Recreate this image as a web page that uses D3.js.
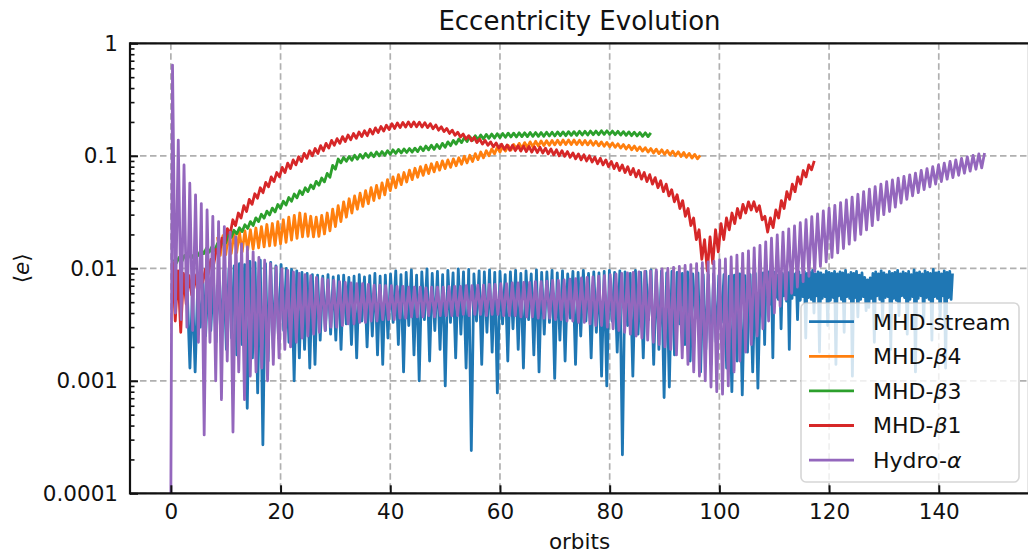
<!DOCTYPE html>
<html><head><meta charset="utf-8">
<script src="https://cdn.jsdelivr.net/npm/d3@7"></script>
<style>body{margin:0;background:#fff}svg{display:block;font-family:"DejaVu Sans",sans-serif}</style>
</head><body><svg id="c" width="1028" height="556"></svg>
<script>
// ---------- DATA ----------
const seriesNames = ["MHD-stream","MHD-β4","MHD-β3","MHD-β1","Hydro-α"];
const seriesColors = ["#1f77b4","#ff7f0e","#2ca02c","#d62728","#9467bd"];
const xTicks = [0,20,40,60,80,100,120,140];
const yTicks = [1e-4,1e-3,1e-2,1e-1,1];
const yTickLabels = ["0.0001","0.001","0.01","0.1","1"];

// MHD-stream: oscillation cycles (start orbit, period), peaks and troughs
const streamStart = 3.0, streamPeriod = 0.95;
const streamPeaks = [0.006,0.0065,0.007,0.0075,0.008,0.0085,0.009,0.0095,0.01,0.0105,
0.011,0.0108,0.0115,0.0112,0.0118,0.011,0.0113,0.0105,0.0108,0.01,
0.0098,0.0095,0.0092,0.009,0.0088,0.0087,0.0085,0.0088,0.0084,0.0086,
0.0087,0.0083,0.0085,0.0088,0.0084,0.0086,0.009,0.0085,0.0087,0.0089,
0.0095,0.0088,0.0092,0.0097,0.0087,0.0093,0.0099,0.009,0.0094,0.0088,
0.0096,0.0091,0.0099,0.0093,0.0098,0.0089,0.0095,0.0093,0.0097,0.0092,
0.0094,0.0088,0.0093,0.0096,0.009,0.0095,0.0089,0.0097,0.0092,0.0093,
0.0096,0.0091,0.0095,0.0089,0.0094,0.0092,0.0096,0.009,0.0093,0.0091,
0.0094,0.0096,0.0092,0.0095,0.0093,0.009,0.0096,0.0092,0.0094,0.0097,
0.0093,0.0095,0.0091,0.0094,0.0092,0.009,0.0093,0.0089,0.0091,0.0088,
0.0087,0.0089,0.0086,0.0088,0.0085,0.0087,0.0089,0.0086,0.0088,0.009];
const streamTroughs = [0.0013,0.0012,0.003,0.0025,0.0028,0.0022,0.0026,0.0019,0.0024,0.0017,
0.0021,0.00057,0.0016,0.00078,0.00027,0.0015,0.0019,0.0024,0.0028,0.0022,
0.001,0.0016,0.0019,0.0013,0.0014,0.0023,0.0028,0.0026,0.0023,0.0019,
0.0032,0.0021,0.0016,0.0034,0.002,0.0025,0.0017,0.0014,0.0024,0.0033,
0.0021,0.0012,0.0031,0.0017,0.001,0.0035,0.0015,0.0028,0.0019,0.0009,
0.0033,0.0016,0.0026,0.0013,0.00024,0.0034,0.0014,0.0027,0.0018,0.00078,
0.0032,0.0015,0.0029,0.0019,0.0013,0.0035,0.0017,0.0012,0.0026,0.0033,
0.00105,0.0023,0.0015,0.0036,0.0014,0.0025,0.0034,0.0016,0.0027,0.0011,
0.0009,0.0034,0.0018,0.00022,0.0031,0.0011,0.0026,0.0016,0.0035,0.0014,
0.0019,0.00071,0.00088,0.0017,0.0032,0.0021,0.0015,0.0036,0.0012,0.0019,
0.0014,0.0022,0.0033,0.0013,0.0008,0.0015,0.00075,0.0018,0.0012,0.00086];
// MHD-stream late, denser output
const streamDenseStart = 107.5, streamDensePeriod = 0.5;
const streamDensePeaks = [0.0088,0.0091,0.0086,0.0093,0.0089,0.0092,0.0087,0.0094,0.009,0.0088,
0.0092,0.0095,0.0089,0.0091,0.0093,0.0087,0.0094,0.009,0.0092,0.0096,
0.0089,0.0093,0.0091,0.0088,0.0095,0.0092,0.009,0.0094,0.0089,0.0093,
0.0091,0.0096,0.0088,0.0092,0.009,0.0094,0.0087,0.0091,0.0083,0.0079,
0.0082,0.009,0.0093,0.0089,0.0095,0.0091,0.0088,0.0094,0.009,0.0092,
0.0096,0.0089,0.0093,0.009,0.0094,0.0088,0.0097,0.0091,0.0093,0.0089,
0.0095,0.0092,0.009,0.0098,0.0091,0.0093,0.0089,0.0095,0.0092,0.0094,0.009];
const streamDenseTroughs = [0.0052,0.0021,0.0056,0.0048,0.0016,0.0055,0.0053,0.0029,0.0057,0.0051,
0.0019,0.0054,0.0058,0.0035,0.0052,0.0056,0.0024,0.0055,0.0053,0.004,
0.0057,0.0018,0.0054,0.0056,0.0031,0.0052,0.0055,0.0014,0.0057,0.0053,
0.0027,0.0056,0.0054,0.0011,0.0055,0.0037,0.0053,0.0056,0.0042,0.0045,
0.0054,0.0022,0.0057,0.0053,0.0033,0.0055,0.0056,0.0019,0.0054,0.0052,
0.0038,0.0057,0.0055,0.0026,0.0053,0.0056,0.0012,0.0054,0.0057,0.0032,
0.0055,0.0053,0.0023,0.0056,0.0054,0.0036,0.0057,0.0013,0.0055,0.0053];

// MHD-beta4
const beta4Start = 8.5, beta4Period = 1.0;
const beta4Peaks = [0.019,0.0195,0.02,0.0205,0.021,0.0215,0.022,0.0228,0.0235,0.0245,
0.025,0.026,0.027,0.0285,0.0295,0.031,0.0305,0.029,0.0285,0.0295,
0.031,0.0335,0.036,0.039,0.0415,0.044,0.0465,0.049,0.052,0.0545,
0.0575,0.0615,0.065,0.068,0.071,0.0745,0.0775,0.08,0.0825,0.085,
0.0875,0.09,0.092,0.094,0.096,0.099,0.101,0.1045,0.108,0.111,
0.115,0.119,0.121,0.1235,0.126,0.129,0.131,0.133,0.1345,0.1355,
0.136,0.137,0.1375,0.138,0.138,0.138,0.1375,0.137,0.136,0.1345,
0.133,0.1315,0.13,0.128,0.126,0.124,0.122,0.12,0.118,0.116,
0.1145,0.113,0.1115,0.11,0.1085,0.107,0.105,0.103,0.101];
const beta4Troughs = [0.013,0.0132,0.0135,0.0138,0.014,0.0145,0.0148,0.0152,0.0155,0.0158,
0.016,0.0165,0.017,0.0178,0.0185,0.019,0.0192,0.019,0.0192,0.0202,
0.0215,0.0235,0.026,0.0285,0.031,0.0335,0.0355,0.0375,0.04,0.042,
0.045,0.049,0.052,0.0555,0.0585,0.0615,0.0645,0.067,0.0695,0.072,
0.0745,0.077,0.079,0.0815,0.084,0.0865,0.089,0.0925,0.096,0.1,
0.104,0.108,0.11,0.1125,0.115,0.117,0.119,0.1205,0.122,0.1235,
0.124,0.125,0.1255,0.126,0.126,0.126,0.1255,0.125,0.124,0.1225,
0.1215,0.12,0.119,0.117,0.115,0.113,0.1115,0.11,0.108,0.106,
0.1045,0.103,0.1015,0.1,0.0985,0.097,0.0955,0.094];

// MHD-beta3
const beta3Start = 0.5, beta3Period = 1.0;
const beta3Peaks = [0.012,0.0125,0.013,0.0135,0.014,0.0146,0.0151,0.0156,0.0166,0.0182,
0.0203,0.0218,0.0229,0.0244,0.026,0.0281,0.0302,0.0322,0.0343,0.0369,
0.0395,0.0426,0.0458,0.0489,0.052,0.0551,0.0593,0.0634,0.0697,0.0822,
0.0936,0.0967,0.0988,0.101,0.103,0.105,0.106,0.108,0.109,0.111,
0.113,0.114,0.115,0.116,0.117,0.12,0.122,0.124,0.126,0.129,
0.133,0.137,0.141,0.145,0.148,0.151,0.153,0.155,0.156,0.157,
0.158,0.159,0.159,0.16,0.16,0.161,0.161,0.161,0.162,0.162,
0.163,0.163,0.164,0.164,0.165,0.165,0.166,0.166,0.167,0.167,
0.166,0.165,0.164,0.163,0.162,0.161,0.16,0.16];
const beta3Troughs = [0.0111,0.0115,0.012,0.0125,0.013,0.0135,0.0139,0.0144,0.0154,0.0168,
0.0188,0.0202,0.0212,0.0226,0.024,0.026,0.0279,0.0298,0.0317,0.0341,
0.0365,0.0394,0.0423,0.0452,0.0481,0.051,0.0548,0.0587,0.0644,0.076,
0.0865,0.0894,0.0913,0.0933,0.0952,0.0971,0.0981,0.1,0.101,0.103,
0.105,0.106,0.107,0.108,0.109,0.111,0.113,0.114,0.116,0.119,
0.123,0.127,0.131,0.134,0.137,0.139,0.141,0.143,0.144,0.145,
0.146,0.147,0.147,0.148,0.148,0.149,0.149,0.149,0.15,0.15,
0.151,0.151,0.152,0.152,0.153,0.153,0.154,0.154,0.155,0.155,
0.154,0.153,0.152,0.151,0.15,0.149,0.148];

// MHD-beta1
const beta1Start = 0.3, beta1Period = 1.0;
const beta1Peaks = [0.0115,0.0095,0.009,0.0086,0.0088,0.0086,0.0098,0.012,0.0148,0.0185,
0.0225,0.027,0.031,0.036,0.041,0.046,0.052,0.058,0.065,0.071,
0.079,0.086,0.092,0.098,0.105,0.111,0.116,0.123,0.129,0.137,
0.142,0.148,0.153,0.158,0.163,0.167,0.172,0.177,0.182,0.187,
0.193,0.196,0.198,0.2,0.2,0.199,0.197,0.193,0.188,0.181,
0.175,0.169,0.162,0.156,0.151,0.146,0.141,0.137,0.133,0.13,
0.127,0.125,0.124,0.123,0.122,0.121,0.12,0.119,0.117,0.115,
0.113,0.111,0.109,0.106,0.104,0.102,0.1,0.097,0.095,0.092,
0.089,0.086,0.083,0.08,0.077,0.074,0.071,0.068,0.064,0.06,
0.056,0.05,0.045,0.04,0.034,0.028,0.022,0.018,0.019,0.022,
0.025,0.028,0.031,0.034,0.037,0.039,0.039,0.036,0.029,0.028,
0.033,0.04,0.048,0.056,0.065,0.074,0.083,0.09];
const beta1Troughs = [0.0034,0.0027,0.0048,0.0058,0.0066,0.0075,0.0088,0.0108,0.0132,0.0165,
0.02,0.024,0.028,0.032,0.037,0.042,0.047,0.053,0.059,0.065,
0.071,0.077,0.083,0.089,0.095,0.1,0.105,0.111,0.117,0.124,
0.129,0.134,0.139,0.143,0.148,0.151,0.156,0.161,0.166,0.171,
0.175,0.178,0.18,0.181,0.181,0.18,0.178,0.174,0.169,0.164,
0.158,0.152,0.147,0.141,0.136,0.131,0.127,0.124,0.12,0.117,
0.114,0.112,0.111,0.11,0.109,0.108,0.107,0.106,0.104,0.102,
0.1,0.099,0.097,0.094,0.092,0.09,0.088,0.085,0.083,0.08,
0.077,0.074,0.071,0.068,0.065,0.062,0.059,0.056,0.052,0.048,
0.044,0.039,0.034,0.029,0.024,0.018,0.012,0.0095,0.011,0.014,
0.018,0.022,0.025,0.028,0.031,0.033,0.032,0.027,0.021,0.023,
0.028,0.034,0.041,0.048,0.056,0.065,0.075];

// Hydro-alpha
const hydroStartOrbit = 0.0, hydroStartValue = 0.0001;
const hydroCycleStart = 0.3, hydroPeriod = 1.05;
const hydroPeaks = [0.64,0.138,0.083,0.057,0.045,0.0376,0.033,0.029,0.026,0.0235,
0.021,0.019,0.0165,0.0155,0.014,0.0125,0.0118,0.011,0.0103,0.0099,
0.0096,0.0093,0.009,0.0088,0.0086,0.0083,0.0081,0.0079,0.0078,0.0076,
0.0075,0.0074,0.0073,0.0073,0.0072,0.0071,0.0071,0.007,0.007,
0.0069,0.0069,0.0068,0.0068,0.0068,0.0067,0.0068,0.0068,0.0068,
0.0069,0.0069,0.0069,0.007,0.007,0.0071,0.0071,0.0072,0.0072,0.0073,
0.0073,0.0074,0.0074,0.0075,0.0075,0.0076,0.0076,0.0077,0.0078,
0.0078,0.0079,0.008,0.0081,0.0082,0.0083,0.0084,0.0085,0.0086,0.0088,
0.0089,0.009,0.0091,0.0092,0.0093,0.0094,0.0095,0.0097,0.0099,
0.01,0.0102,0.0104,0.0106,0.0108,0.011,0.0112,0.0114,0.0116,0.0119,
0.0121,0.0126,0.0131,0.0136,0.0143,0.0152,0.016,0.0172,0.0185,
0.0198,0.021,0.0224,0.0238,0.0254,0.027,0.0288,0.0305,0.0323,0.0342,
0.0362,0.0384,0.0406,0.043,0.0455,0.048,0.0506,0.0533,0.056,0.0588,
0.061,0.0632,0.0655,0.0678,0.07,0.074,0.077,0.08,0.083,0.086,
0.089,0.092,0.095,0.098,0.101,0.104,0.106];
const hydroTroughs = [0.004,0.0035,0.003,0.0028,0.0022,0.00033,0.0022,0.001,0.00068,0.0015,
0.00035,0.0012,0.00068,0.0011,0.0012,0.0013,0.001,0.0014,0.0016,0.0019,
0.002,0.0022,0.0024,0.0025,0.0026,0.0027,0.0028,0.003,0.003,
0.0031,0.0032,0.0032,0.0033,0.0033,0.0034,0.0034,0.0035,0.0035,0.0035,
0.0036,0.0036,0.0037,0.0037,0.0037,0.0038,0.0037,0.0038,0.0038,
0.0038,0.0038,0.0039,0.0038,0.0039,0.0039,0.0038,0.0039,0.0039,0.0038,
0.0038,0.0038,0.0037,0.0037,0.0037,0.0036,0.0036,0.0036,0.0035,
0.0035,0.0034,0.0034,0.0033,0.0033,0.0032,0.0031,0.0031,0.003,0.0029,
0.0028,0.0027,0.0026,0.0025,0.0024,0.0023,0.0022,0.0021,0.002,
0.0019,0.0017,0.0016,0.0014,0.0012,0.0011,0.001,0.00088,0.0008,0.00076,
0.0009,0.0012,0.0015,0.0018,0.0021,0.0025,0.0029,0.0034,0.004,
0.0046,0.0053,0.006,0.0068,0.0076,0.0085,0.0094,0.0104,0.0114,0.0125,
0.0137,0.015,0.0164,0.0178,0.02,0.022,0.024,0.027,0.03,0.032,
0.035,0.038,0.041,0.044,0.047,0.05,0.053,0.056,0.059,0.062,
0.064,0.067,0.07,0.073,0.076,0.078];

// ---------- BUILD ----------
function cycles(start, period, peaks, troughs){
  const pts=[]; const n=Math.max(peaks.length,troughs.length);
  for(let i=0;i<n;i++){
    if(peaks[i]!==undefined) pts.push([start+i*period, peaks[i]]);
    if(troughs[i]!==undefined) pts.push([start+i*period+period/2, troughs[i]]);
  }
  return pts;
}
const streamData = cycles(streamStart,streamPeriod,streamPeaks,streamTroughs)
  .concat(cycles(streamDenseStart,streamDensePeriod,streamDensePeaks,streamDenseTroughs));
const beta4Data = cycles(beta4Start,beta4Period,beta4Peaks,beta4Troughs);
const beta3Data = cycles(beta3Start,beta3Period,beta3Peaks,beta3Troughs);
const beta1Data = cycles(beta1Start,beta1Period,beta1Peaks,beta1Troughs);
const hydroData = [[hydroStartOrbit,hydroStartValue]].concat(cycles(hydroCycleStart,hydroPeriod,hydroPeaks,hydroTroughs));
const allData = [streamData,beta4Data,beta3Data,beta1Data,hydroData];

const svg = d3.select("#c");
const L=130, R=1029, T=43.3, B=493.3;
const x = d3.scaleLinear().domain([-7.45,156.45]).range([L,R]);
const y = d3.scaleLog().domain([1e-4,1]).range([B,T]);

svg.append("defs").append("clipPath").attr("id","clip")
  .append("rect").attr("x",L).attr("y",T).attr("width",R-L).attr("height",B-T);

// grid
const grid = svg.append("g").attr("stroke","#b0b0b0").attr("stroke-width",1.7).attr("stroke-dasharray","6.5,3.5");
xTicks.forEach(v=>grid.append("line").attr("x1",x(v)).attr("x2",x(v)).attr("y1",T).attr("y2",B));
yTicks.forEach(v=>grid.append("line").attr("x1",L).attr("x2",R).attr("y1",y(v)).attr("y2",y(v)));

// lines
const line = d3.line().x(d=>x(d[0])).y(d=>y(d[1]));
const lg = svg.append("g").attr("clip-path","url(#clip)");
allData.forEach((d,i)=>{
  lg.append("path").datum(d).attr("d",line).attr("fill","none")
    .attr("stroke",seriesColors[i]).attr("stroke-width",2.8).attr("stroke-linejoin","round");
});

// axes with inward ticks
const xAxis = d3.axisBottom(x).tickValues(xTicks).tickSize(-8).tickPadding(10).tickFormat(d3.format("d"));
const gx = svg.append("g").attr("transform",`translate(0,${B})`).call(xAxis);
gx.select(".domain").remove();
gx.selectAll(".tick line").attr("stroke","#111").attr("stroke-width",2);
gx.selectAll("text").attr("font-size",21.5).attr("fill","#111").attr("font-family","DejaVu Sans");

const minorVals=[];
for(let e=-4;e<0;e++) for(let k=2;k<10;k++) minorVals.push(k*Math.pow(10,e));
const gym = svg.append("g").attr("transform",`translate(${L},0)`).call(d3.axisLeft(y).tickValues(minorVals).tickSize(-4.5).tickFormat(""));
gym.select(".domain").remove();
gym.selectAll(".tick line").attr("stroke","#111").attr("stroke-width",1.6);
const yAxis = d3.axisLeft(y).tickValues(yTicks).tickSize(-8).tickPadding(12).tickFormat((d,i)=>yTickLabels[i]);
const gy = svg.append("g").attr("transform",`translate(${L},0)`).call(yAxis);
gy.select(".domain").remove();
gy.selectAll(".tick line").attr("stroke","#111").attr("stroke-width",2);
gy.selectAll("text").attr("font-size",21.5).attr("fill","#111").attr("font-family","DejaVu Sans");

// spines
const sp = svg.append("g").attr("stroke","#111").attr("stroke-width",2.2);
sp.append("line").attr("x1",L).attr("x2",L).attr("y1",T-1.1).attr("y2",B+1.1);
sp.append("line").attr("x1",L).attr("x2",R).attr("y1",B).attr("y2",B);
sp.append("line").attr("x1",L).attr("x2",R).attr("y1",T).attr("y2",T);
sp.append("line").attr("x1",R).attr("x2",R).attr("y1",T).attr("y2",B);

// title and labels
svg.append("text").attr("x",(L+R)/2).attr("y",29.5).attr("text-anchor","middle")
  .attr("font-size",26).attr("fill","#111").text("Eccentricity Evolution");
svg.append("text").attr("x",(L+R)/2).attr("y",549).attr("text-anchor","middle")
  .attr("font-size",21.5).attr("fill","#111").text("orbits");
const yl = svg.append("text").attr("transform",`translate(29,${(T+B)/2}) rotate(-90)`)
  .attr("text-anchor","middle").attr("font-size",21.5).attr("fill","#111");
yl.append("tspan").text("⟨");
yl.append("tspan").attr("font-style","italic").text("e");
yl.append("tspan").text("⟩");

// legend
const leg = svg.append("g");
leg.append("rect").attr("x",801).attr("y",303).attr("width",218).attr("height",179).attr("rx",5)
  .attr("fill","#fff").attr("fill-opacity",0.8).attr("stroke","#cccccc").attr("stroke-opacity",0.8).attr("stroke-width",1.6);
const legParts = [["MHD-stream"],["MHD-","β","4"],["MHD-","β","3"],["MHD-","β","1"],["Hydro-","α"]];
seriesNames.forEach((n,i)=>{
  const yy = 321.7 + i*34.6;
  leg.append("line").attr("x1",809).attr("x2",854).attr("y1",yy).attr("y2",yy)
    .attr("stroke",seriesColors[i]).attr("stroke-width",2.8);
  const t = leg.append("text").attr("x",873).attr("y",yy+7.9).attr("font-size",22).attr("fill","#111");
  legParts[i].forEach(p=>{
    const ts=t.append("tspan").text(p);
    if(p==="β"||p==="α") ts.attr("font-style","italic");
  });
});
</script></body></html>
